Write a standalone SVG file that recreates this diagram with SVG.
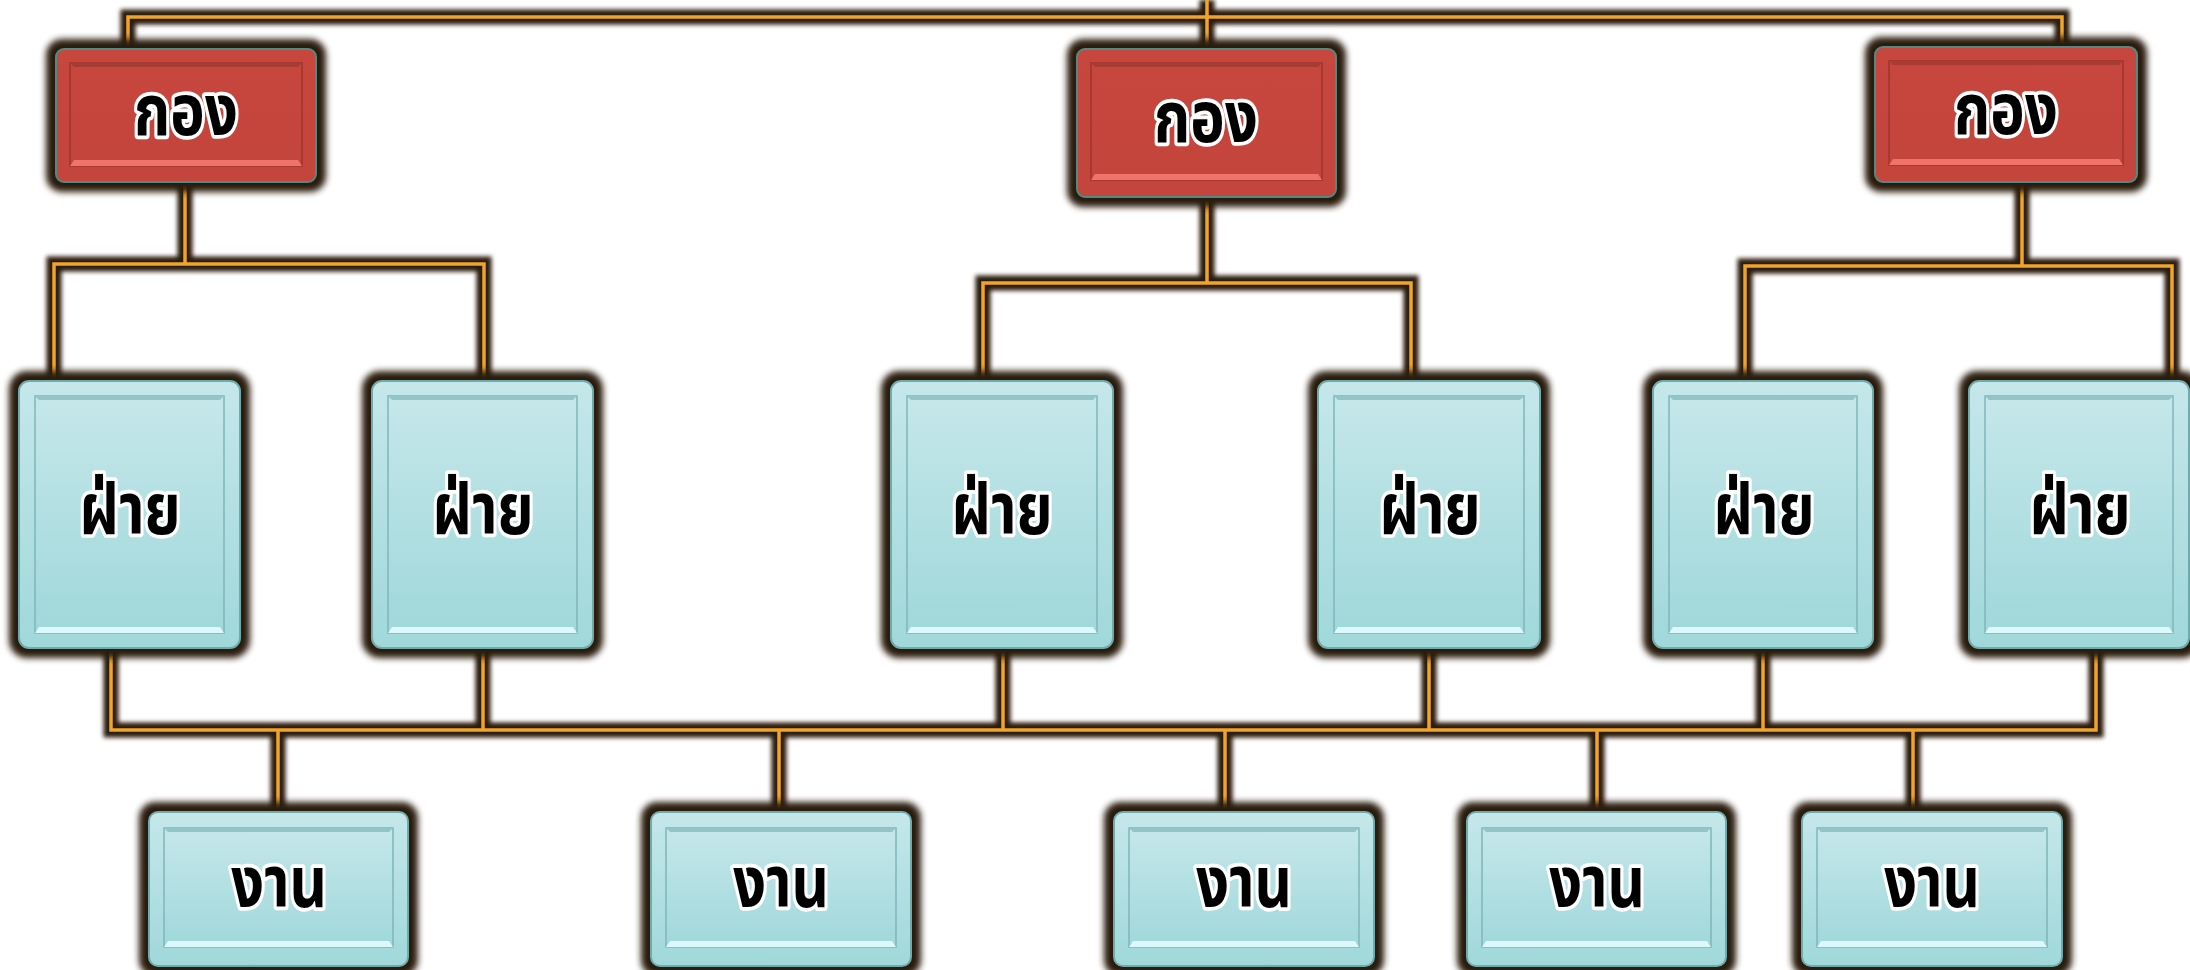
<svg xmlns="http://www.w3.org/2000/svg" width="2190" height="970" viewBox="0 0 2190 970">
<defs>
<linearGradient id="gRed" x1="0" y1="0" x2="0" y2="1"><stop offset="0" stop-color="#C7463D"/><stop offset="1" stop-color="#C4453C"/></linearGradient>
<linearGradient id="gCyan" x1="0" y1="0" x2="0" y2="1"><stop offset="0" stop-color="#C5E7EA"/><stop offset="1" stop-color="#A0D8DA"/></linearGradient>
<filter id="glow" x="-20%" y="-20%" width="140%" height="140%"><feGaussianBlur stdDeviation="3"/></filter>
<filter id="lglow" x="-50%" y="-50%" width="200%" height="200%"><feGaussianBlur stdDeviation="2"/></filter>
<style>
.halo{fill:#2A1C0A;filter:url(#glow)}
.cd{fill:none;stroke:#2A1C0A;stroke-width:15;filter:url(#lglow)}
.cy{fill:none;stroke:#F0A42A;stroke-width:3.5}
.ko{fill:url(#gRed);stroke:#4F8A86;stroke-width:2}
.ki{fill:url(#gRed);stroke:#A8392F;stroke-width:2}
.kt{fill:#A53D35}
.kb{fill:#F0736A}
.fo{fill:url(#gCyan);stroke:#6FAAAD;stroke-width:2}
.fi{fill:url(#gCyan);stroke:#7EB6B9;stroke-width:1.5}
.ft{fill:#92C5C8}
.fb{fill:#DDF8FA}
.t{font-family:"Noto Sans Thai","Leelawadee UI",Tahoma,"DejaVu Sans",sans-serif;font-weight:bold;font-size:66px;text-anchor:middle;fill:#000;stroke:#fff;stroke-width:7;stroke-linejoin:round;paint-order:stroke}
</style>
</defs>
<rect width="2190" height="970" fill="#fff"/>
<g id="connectors">
<g class="cd">
<path d="M128,49V17H2062V49M1207,0V49"/>
<path d="M185,182V264M54,380V264H484V380"/>
<path d="M1207,197V283M983,380V283H1411V380"/>
<path d="M2022,182V266M1745,380V266H2172V380"/>
<path d="M111,648V730H2096V648M483,648V730M1003,648V730M1429,648V730M1763,648V730"/>
<path d="M278,730V812M779,730V812M1225,730V812M1597,730V812M1913,730V812"/>
</g>
<g class="cy">
<path d="M128,49V17H2062V49M1207,0V49"/>
<path d="M185,182V264M54,380V264H484V380"/>
<path d="M1207,197V283M983,380V283H1411V380"/>
<path d="M2022,182V266M1745,380V266H2172V380"/>
<path d="M111,648V730H2096V648M483,648V730M1003,648V730M1429,648V730M1763,648V730"/>
<path d="M278,730V812M779,730V812M1225,730V812M1597,730V812M1913,730V812"/>
</g>
</g>
<g id="kong1">
<rect class="halo" x="46" y="39" width="280" height="153" rx="16"/>
<rect class="ko" x="56" y="49" width="260" height="133" rx="8"/>
<rect class="ki" x="70" y="63" width="232" height="103"/>
<polygon class="kt" points="70,63 302,63 298,67 74,67"/>
<polygon class="kb" points="74,160 298,160 302,166 70,166"/>
<text class="t" transform="translate(186,135) scale(0.88,1.07)">กอง</text>
</g>
<g id="kong2">
<rect class="halo" x="1067" y="39" width="279" height="168" rx="16"/>
<rect class="ko" x="1077" y="49" width="259" height="148" rx="8"/>
<rect class="ki" x="1091" y="63" width="231" height="117"/>
<polygon class="kt" points="1091,63 1322,63 1318,67 1095,67"/>
<polygon class="kb" points="1095,174 1318,174 1322,180 1091,180"/>
<text class="t" transform="translate(1206,142) scale(0.88,1.07)">กอง</text>
</g>
<g id="kong3">
<rect class="halo" x="1865" y="37" width="282" height="155" rx="16"/>
<rect class="ko" x="1875" y="47" width="262" height="135" rx="8"/>
<rect class="ki" x="1889" y="61" width="234" height="104"/>
<polygon class="kt" points="1889,61 2123,61 2119,65 1893,65"/>
<polygon class="kb" points="1893,159 2119,159 2123,165 1889,165"/>
<text class="t" transform="translate(2006,134) scale(0.88,1.07)">กอง</text>
</g>
<g id="fai1">
<rect class="halo" x="9" y="371" width="241" height="287" rx="18"/>
<rect class="fo" x="19" y="381" width="221" height="267" rx="10"/>
<rect class="fi" x="35" y="396" width="189" height="237"/>
<polygon class="ft" points="35,396 224,396 220,400 39,400"/>
<polygon class="fb" points="39,627 220,627 224,633 35,633"/>
<text class="t" transform="translate(130,534) scale(0.88,1.07)">ฝ่าย</text>
</g>
<g id="fai2">
<rect class="halo" x="362" y="371" width="241" height="287" rx="18"/>
<rect class="fo" x="372" y="381" width="221" height="267" rx="10"/>
<rect class="fi" x="388" y="396" width="189" height="237"/>
<polygon class="ft" points="388,396 577,396 573,400 392,400"/>
<polygon class="fb" points="392,627 573,627 577,633 388,633"/>
<text class="t" transform="translate(483,534) scale(0.88,1.07)">ฝ่าย</text>
</g>
<g id="fai3">
<rect class="halo" x="881" y="371" width="242" height="287" rx="18"/>
<rect class="fo" x="891" y="381" width="222" height="267" rx="10"/>
<rect class="fi" x="907" y="396" width="190" height="237"/>
<polygon class="ft" points="907,396 1097,396 1093,400 911,400"/>
<polygon class="fb" points="911,627 1093,627 1097,633 907,633"/>
<text class="t" transform="translate(1002,534) scale(0.88,1.07)">ฝ่าย</text>
</g>
<g id="fai4">
<rect class="halo" x="1308" y="371" width="242" height="287" rx="18"/>
<rect class="fo" x="1318" y="381" width="222" height="267" rx="10"/>
<rect class="fi" x="1334" y="396" width="190" height="237"/>
<polygon class="ft" points="1334,396 1524,396 1520,400 1338,400"/>
<polygon class="fb" points="1338,627 1520,627 1524,633 1334,633"/>
<text class="t" transform="translate(1430,534) scale(0.88,1.07)">ฝ่าย</text>
</g>
<g id="fai5">
<rect class="halo" x="1643" y="371" width="240" height="287" rx="18"/>
<rect class="fo" x="1653" y="381" width="220" height="267" rx="10"/>
<rect class="fi" x="1669" y="396" width="188" height="237"/>
<polygon class="ft" points="1669,396 1857,396 1853,400 1673,400"/>
<polygon class="fb" points="1673,627 1853,627 1857,633 1669,633"/>
<text class="t" transform="translate(1764,534) scale(0.88,1.07)">ฝ่าย</text>
</g>
<g id="fai6">
<rect class="halo" x="1959" y="371" width="241" height="287" rx="18"/>
<rect class="fo" x="1969" y="381" width="220" height="267" rx="10"/>
<rect class="fi" x="1985" y="396" width="188" height="237"/>
<polygon class="ft" points="1985,396 2173,396 2169,400 1989,400"/>
<polygon class="fb" points="1989,627 2169,627 2173,633 1985,633"/>
<text class="t" transform="translate(2080,534) scale(0.88,1.07)">ฝ่าย</text>
</g>
<g id="ngan1">
<rect class="halo" x="139" y="802" width="279" height="174" rx="16"/>
<rect class="fo" x="149" y="812" width="259" height="154" rx="9"/>
<rect class="fi" x="164" y="828" width="229" height="119"/>
<polygon class="ft" points="164,828 393,828 389,832 168,832"/>
<polygon class="fb" points="168,941 389,941 393,947 164,947"/>
<text class="t" transform="translate(279,907) scale(0.88,1.07)">งาน</text>
</g>
<g id="ngan2">
<rect class="halo" x="641" y="802" width="280" height="174" rx="16"/>
<rect class="fo" x="651" y="812" width="260" height="154" rx="9"/>
<rect class="fi" x="666" y="828" width="230" height="119"/>
<polygon class="ft" points="666,828 896,828 892,832 670,832"/>
<polygon class="fb" points="670,941 892,941 896,947 666,947"/>
<text class="t" transform="translate(781,907) scale(0.88,1.07)">งาน</text>
</g>
<g id="ngan3">
<rect class="halo" x="1104" y="802" width="280" height="174" rx="16"/>
<rect class="fo" x="1114" y="812" width="260" height="154" rx="9"/>
<rect class="fi" x="1129" y="828" width="230" height="119"/>
<polygon class="ft" points="1129,828 1359,828 1355,832 1133,832"/>
<polygon class="fb" points="1133,941 1355,941 1359,947 1129,947"/>
<text class="t" transform="translate(1244,907) scale(0.88,1.07)">งาน</text>
</g>
<g id="ngan4">
<rect class="halo" x="1457" y="802" width="279" height="174" rx="16"/>
<rect class="fo" x="1467" y="812" width="259" height="154" rx="9"/>
<rect class="fi" x="1482" y="828" width="229" height="119"/>
<polygon class="ft" points="1482,828 1711,828 1707,832 1486,832"/>
<polygon class="fb" points="1486,941 1707,941 1711,947 1482,947"/>
<text class="t" transform="translate(1597,907) scale(0.88,1.07)">งาน</text>
</g>
<g id="ngan5">
<rect class="halo" x="1792" y="802" width="280" height="174" rx="16"/>
<rect class="fo" x="1802" y="812" width="260" height="154" rx="9"/>
<rect class="fi" x="1817" y="828" width="230" height="119"/>
<polygon class="ft" points="1817,828 2047,828 2043,832 1821,832"/>
<polygon class="fb" points="1821,941 2043,941 2047,947 1817,947"/>
<text class="t" transform="translate(1932,907) scale(0.88,1.07)">งาน</text>
</g>
</svg>
